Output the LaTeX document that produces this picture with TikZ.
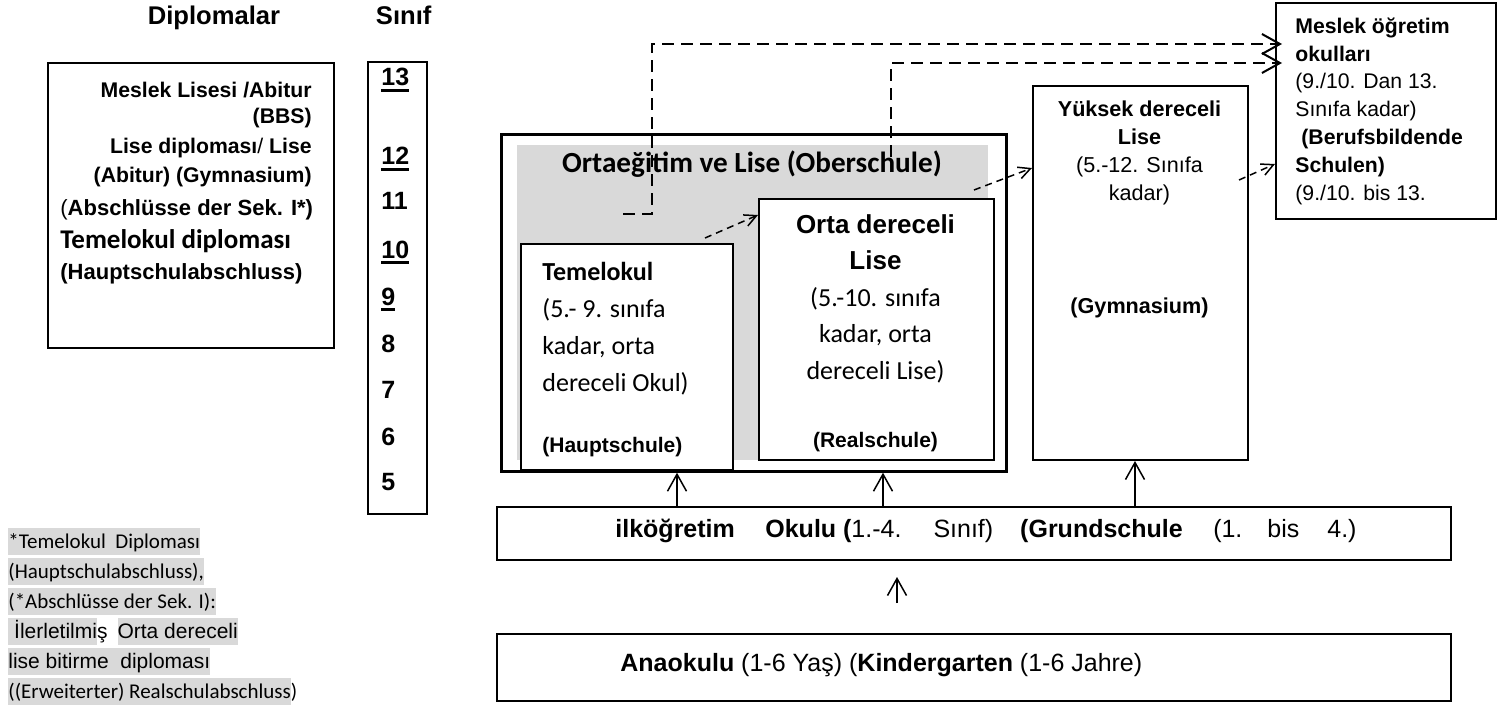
\documentclass[tikz,border=0pt]{standalone}
\usepackage{fontspec}
\setmainfont{Liberation Sans}
\newfontfamily\calib{Carlito}
\usetikzlibrary{positioning,calc,arrows.meta}
\definecolor{shade}{HTML}{D9D9D9}
\newcommand{\setsz}[2]{\fontsize{#1}{#2}\selectfont}
\newcommand{\gradeul}[1]{\setbox0\hbox{#1}\rlap{\rule[-3pt]{\wd0}{1.4pt}}#1}
\newcommand{\shadebox}[1]{{\setlength{\fboxsep}{0pt}\colorbox{shade}{\rule[-3.5pt]{0pt}{13.5pt}#1}}}
\begin{document}
\begin{tikzpicture}[x=0.5pt,y=-0.5pt,
	box/.style={draw, line width=1pt, fill=white, inner sep=0pt, anchor=north west},
	txt/.style={inner sep=0pt},
	risearrow/.style={-{Straight Barb[length=8.5pt,width=9.5pt]}, line width=0.75pt},
	dashlong/.style={-{Straight Barb[length=9pt,width=10pt]}, line width=1pt, dash pattern=on 6pt off 3.5pt},
	dashshort/.style={-{Straight Barb[length=6pt,width=6pt]}, line width=0.75pt, dash pattern=on 3.5pt off 2.5pt}]
		\useasboundingbox (0,0) rectangle (1511,706);
		% headers
		\node[txt, anchor=base, font=\setsz{12.8}{15}\bfseries] (Diplo) at (214,25) {Diplomalar} ;
		\node[txt, base right=47.5pt of Diplo, font=\setsz{12.8}{15}\bfseries] (Sinif) {Sınıf} ;
		% diplomas
		\node[box, minimum width=143pt, minimum height=142.5pt] (Abschluss) at (47,62) {} ;
		\node[txt, anchor=north east, align=right, font=\setsz{10.6}{13}\bfseries] (BBS) at (312,78.8) {\strut Meslek Lisesi /Abitur\\(BBS)} ;
		\node[txt, anchor=north east, align=right, font=\setsz{10.6}{14.5}\bfseries] (Abitur) at (312,132.7) {\strut Lise diploması{\mdseries/} Lise\\(Abitur) (Gymnasium)} ;
		\node[txt, anchor=base west, font=\setsz{11}{13}\bfseries] (SekI) at (60,215) {{\mdseries(}Abschlüsse der Sek. I*)} ;
		\node[txt, anchor=base west, font=\setsz{13.5}{15}\calib\bfseries] (HauptDip) at (60,249) {Temelokul diploması} ;
		\node[txt, anchor=base west, font=\setsz{11}{13}\bfseries] (HauptAbs) at (60,279) {(Hauptschulabschluss)} ;
		% grades
		\node[box, minimum width=29.5pt, minimum height=226pt] (Grades) at (367,61) {} ;
		\foreach \g/\y [count=\i] in {{\gradeul{13}}/86, {\gradeul{12}}/165, 11/210, {\gradeul{10}}/258, {\gradeul{9}}/305, 8/352, 7/398, 6/445, 5/490}
			\node[txt, anchor=base west, font=\setsz{12.5}{15}\bfseries] (G\i) at (381,\y) {\g} ;
		% Oberschule
		\node[box, line width=1.35pt, minimum width=252.5pt, minimum height=168.5pt] (Ober) at (500,133) {} ;
		\node[anchor=north west, fill=shade, inner sep=0pt, minimum width=235.5pt, minimum height=157.5pt] (Shade) at (517,145) {} ;
		\node[txt, anchor=base, font=\setsz{14.6}{17}\calib\bfseries] (OberTitle) at (752,173) {Ortaeğitim ve Lise (Oberschule)} ;
		\node[box, minimum width=106pt, minimum height=113pt] (Temel) at (520,243) {} ;
		\node[txt, anchor=north west, align=left, font=\setsz{13}{18.6}\calib] (TemelText) at (542,253.9) {\strut{\bfseries Temelokul}\\(5.- 9. sınıfa\\kadar, orta\\dereceli Okul)} ;
		\node[txt, anchor=base west, font=\setsz{10.5}{13}\bfseries] (Haupt) at (542,452) {(Hauptschule)} ;
		\node[box, minimum width=117.5pt, minimum height=130.5pt] (Orta) at (758,198) {} ;
		\node[txt, anchor=north, align=center, font=\setsz{13}{18.25}] (OrtaText) at (875.5,207.5) {\strut{\bfseries Orta dereceli}\\{\bfseries Lise}\\{\calib(5.-10. sınıfa}\\{\calib kadar, orta}\\{\calib dereceli Lise)}} ;
		\node[txt, anchor=base, font=\setsz{10.5}{13}\bfseries] (Real) at (875.5,447) {(Realschule)} ;
		% Gymnasium and BBS
		\node[box, minimum width=107.5pt, minimum height=187pt] (Yuksek) at (1032,85) {} ;
		\node[txt, anchor=north, align=center, font=\setsz{10.8}{14}] (YuksekText) at (1139.5,96.4) {\strut{\bfseries Yüksek dereceli}\\{\bfseries Lise}\\(5.-12. Sınıfa\\kadar)} ;
		\node[txt, anchor=base, font=\setsz{10.8}{13}\bfseries] (Gym) at (1139.5,313) {(Gymnasium)} ;
		\node[box, minimum width=110pt, minimum height=108pt] (Meslek) at (1275,2) {} ;
		\node[txt, anchor=north west, align=left, font=\setsz{10.6}{13.9}] (MeslekText) at (1295,13.5) {\strut{\bfseries Meslek öğretim}\\{\bfseries okulları}\\(9./10. Dan 13.\\Sınıfa kadar)\\\hspace*{3pt}{\bfseries(Berufsbildende}\\{\bfseries Schulen)}\\(9./10. bis 13.} ;
		% Grundschule and Kindergarten
		\node[box, minimum width=477pt, minimum height=26.5pt] (Grund) at (496,506) {} ;
		\node[txt, anchor=base west, font=\setsz{12.5}{15}] (GrundText) at (615,537) {\textbf{ilköğretim}\hspace{15.25pt}\textbf{Okulu (}1.-4.\hspace{16pt}Sınıf)\hspace{13.5pt}\textbf{(Grundschule}\hspace{15.25pt}(1.\hspace{12.5pt}bis\hspace{14pt}4.)} ;
		\node[box, minimum width=477pt, minimum height=33.5pt] (Anaokul) at (496,633) {} ;
		\node[txt, anchor=base west, font=\setsz{12.5}{15}] (AnaText) at (620,671) {\textbf{Anaokulu} (1-6 Yaş) (\textbf{Kindergarten} (1-6 Jahre)} ;
		% footnote
		\node[txt, anchor=base west, font=\setsz{10.5}{13}\calib] (Fn1) at (8,548) {\shadebox{*Temelokul\ \ Diploması}} ;
		\node[txt, anchor=base west, font=\setsz{10.5}{13}\calib] (Fn2) at (8,578) {\shadebox{(Hauptschulabschluss),}} ;
		\node[txt, anchor=base west, font=\setsz{10.5}{13}\calib] (Fn3) at (8,608) {\shadebox{(*Abschlüsse der Sek. I):}} ;
		\node[txt, anchor=base west, font=\setsz{10.5}{13}] (Fn4) at (8,638) {\shadebox{\ İlerletilmi}ş\hspace{5pt}\shadebox{Orta dereceli}} ;
		\node[txt, anchor=base west, font=\setsz{10.5}{13}] (Fn5) at (8,668) {\shadebox{lise bitirme\ \ diploması}} ;
		\node[txt, anchor=base west, font=\setsz{10.5}{13}\calib] (Fn6) at (8,698) {\shadebox{((Erweiterter) Realschulabschluss})} ;
		% connectors
		\draw[dashshort] ($(Temel.north east)+(-29,-5)$) -- ($(Orta.north west)+(0,17)$) ;
		\draw[dashshort] ($(Orta.north east)+(-21,-8)$) -- ($(Yuksek.north west)+(0,83)$) ;
		\draw[dashshort] ($(Yuksek.north east)+(-10,95)$) -- ($(Meslek.south west)+(0,-56)$) ;
		\draw[dashlong] ($(Ober.north west)+(123,81)$) -- ++(29,0) |- ($(Meslek.north west)+(7,42)$) ;
		\draw[dashlong] ($(Ober.north west)+(391,24)$) |- ($(Meslek.north west)+(7,61)$) ;
		\draw[risearrow] ($(Grund.north west)+(181,0)$) -- ($(Ober.south west)+(177,0)$) ;
		\draw[risearrow] ($(Grund.north west)+(387,0)$) -- ($(Ober.south west)+(383,0)$) ;
		\draw[risearrow] ($(Grund.north west)+(639,0)$) -- ($(Yuksek.south west)+(103,0)$) ;
		\draw[risearrow] ($(Anaokul.north west)+(401,-30)$) -- ($(Grund.south west)+(401,16)$) ;
	\end{tikzpicture}
\end{document}
